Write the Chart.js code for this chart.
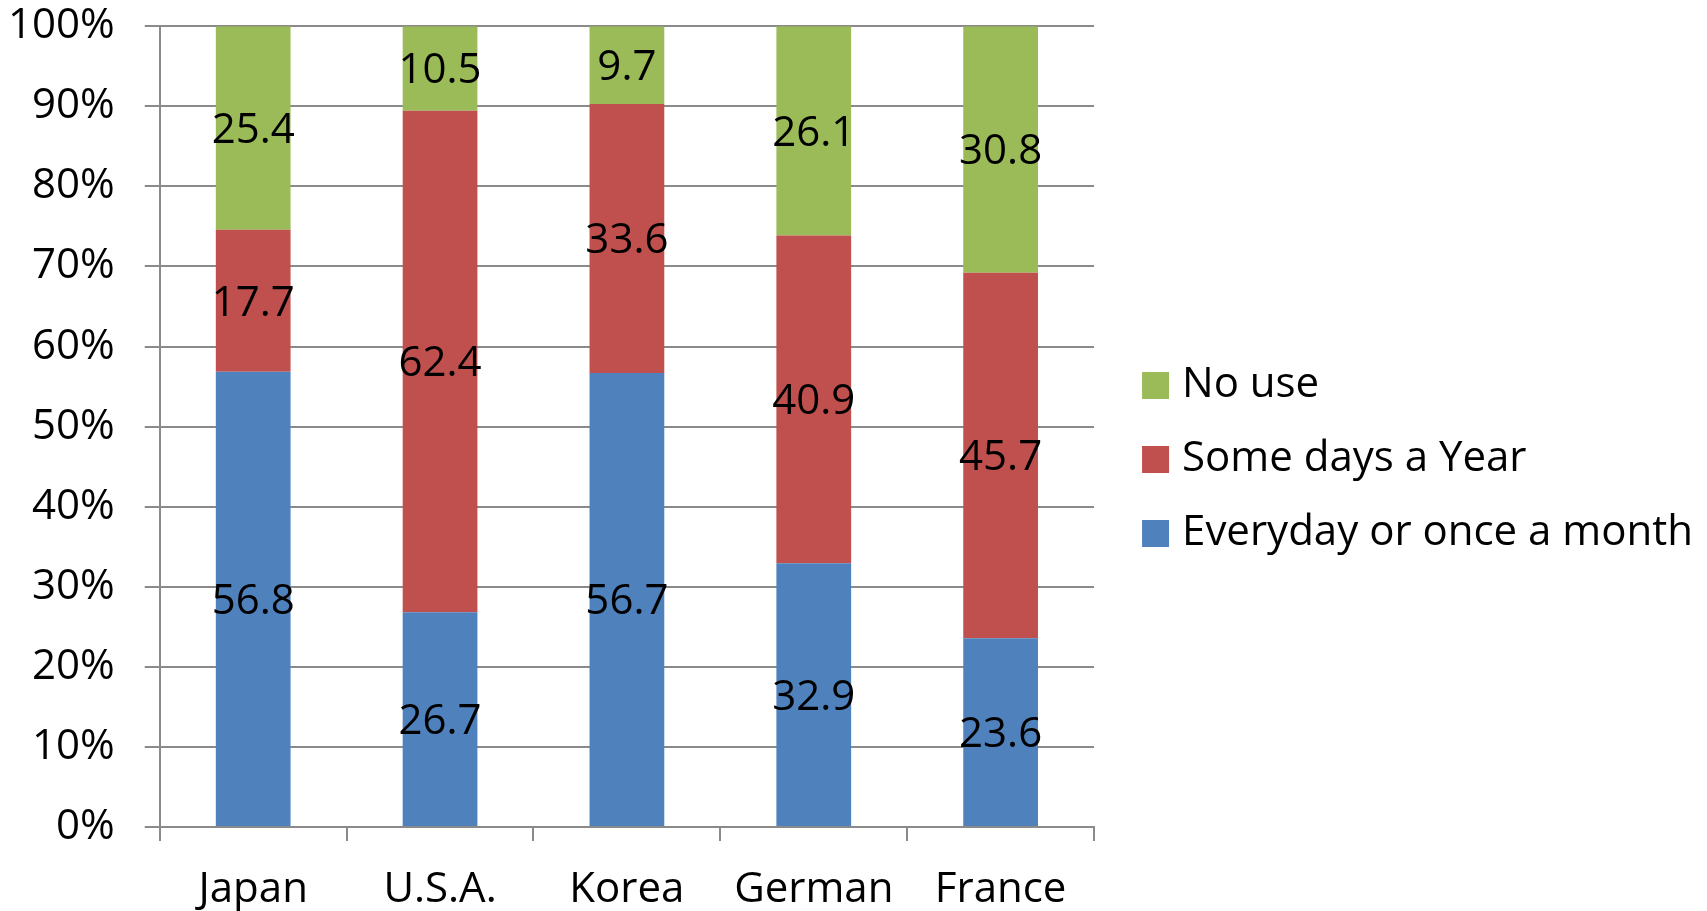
<!DOCTYPE html>
<html><head><meta charset="utf-8">
<script src="https://cdn.jsdelivr.net/npm/chart.js@4/dist/chart.umd.min.js"></script>
<style>html,body{margin:0;padding:0;background:#fff;} #wrap{width:1707px;height:911px;}</style>
</head><body><div id="wrap"><canvas id="c" width="1707" height="911"></canvas></div>
<script>
const categories = ['Japan', 'U.S.A.', 'Korea', 'German', 'France'];
const everydayOrMonthly = [56.8, 26.7, 56.7, 32.9, 23.6];
const someDaysAYear = [17.7, 62.4, 33.6, 40.9, 45.7];
const noUse = [25.4, 10.5, 9.7, 26.1, 30.8];
const seriesNames = ['Everyday or once a month', 'Some days a Year', 'No use'];
const yTickLabels = ['0%', '10%', '20%', '30%', '40%', '50%', '60%', '70%', '80%', '90%', '100%'];

const FONT = '"Open Sans", "Noto Sans", sans-serif';
const FS = 42;
const GRID = '#8a8a8a';

const raw = [everydayOrMonthly, someDaysAYear, noUse];
const totals = categories.map((_, i) => raw.reduce((s, arr) => s + arr[i], 0));
const share = arr => arr.map((v, i) => v / totals[i] * 100);

const colors = ['#4F81BD', '#C0504D', '#9BBB59'];

const valueLabels = {
  id: 'valueLabels',
  afterDatasetsDraw(chart) {
    const ctx = chart.ctx;
    ctx.save();
    ctx.font = FS + 'px ' + FONT;
    ctx.fillStyle = '#000';
    ctx.textAlign = 'center';
    ctx.textBaseline = 'middle';
    chart.data.datasets.forEach((ds, di) => {
      const meta = chart.getDatasetMeta(di);
      meta.data.forEach((el, i) => {
        const y = (el.y + el.base) / 2 + 3;
        ctx.fillText(ds.rawValues[i].toFixed(1), el.x, y);
      });
    });
    ctx.restore();
  }
};

Chart.defaults.font.family = FONT;
Chart.defaults.color = '#000';

new Chart(document.getElementById('c'), {
  type: 'bar',
  data: {
    labels: categories,
    datasets: raw.map((arr, k) => ({
      label: seriesNames[k],
      data: share(arr),
      rawValues: arr,
      backgroundColor: colors[k],
      borderWidth: 0,
      barPercentage: 0.4,
      categoryPercentage: 1.0
    }))
  },
  options: {
    responsive: false,
    animation: false,
    devicePixelRatio: 1,
    layout: { padding: { top: 8, bottom: 0, left: 8, right: 4 } },
    plugins: {
      tooltip: { enabled: false },
      legend: {
        position: 'right',
        reverse: true,
        maxWidth: 700,
        labels: {
          usePointStyle: true,
          pointStyle: 'rect',
          boxWidth: 11,
          boxHeight: 27,
          padding: 32,
          color: '#000',
          font: { size: FS, family: FONT }
        }
      }
    },
    scales: {
      x: {
        stacked: true,
        grid: { offset: true, drawOnChartArea: false, drawTicks: true, tickLength: 42,
                tickBorderDash: [13, 200], color: GRID, lineWidth: 2 },
        border: { display: true, color: GRID, width: 2 },
        ticks: { padding: 0, font: { size: FS, lineHeight: 1.0 }, color: '#000' }
      },
      y: {
        stacked: true,
        min: 0,
        max: 100,
        ticks: {
          stepSize: 10,
          padding: 0,
          font: { size: FS, lineHeight: 1.25 },
          color: '#000',
          callback: (v) => yTickLabels[Math.round(v / 10)]
        },
        grid: { color: GRID, lineWidth: 2, tickLength: 45, drawTicks: true,
                tickBorderDash: [15, 30], tickBorderDashOffset: 15 },
        border: { display: true, color: GRID, width: 2 }
      },
      spacer: {
        position: 'right',
        display: true,
        grid: { display: false, drawTicks: false },
        border: { display: false },
        ticks: { display: false },
        afterFit: (s) => { s.width = 24; }
      }
    }
  },
  plugins: [valueLabels]
});
</script>
</body></html>
